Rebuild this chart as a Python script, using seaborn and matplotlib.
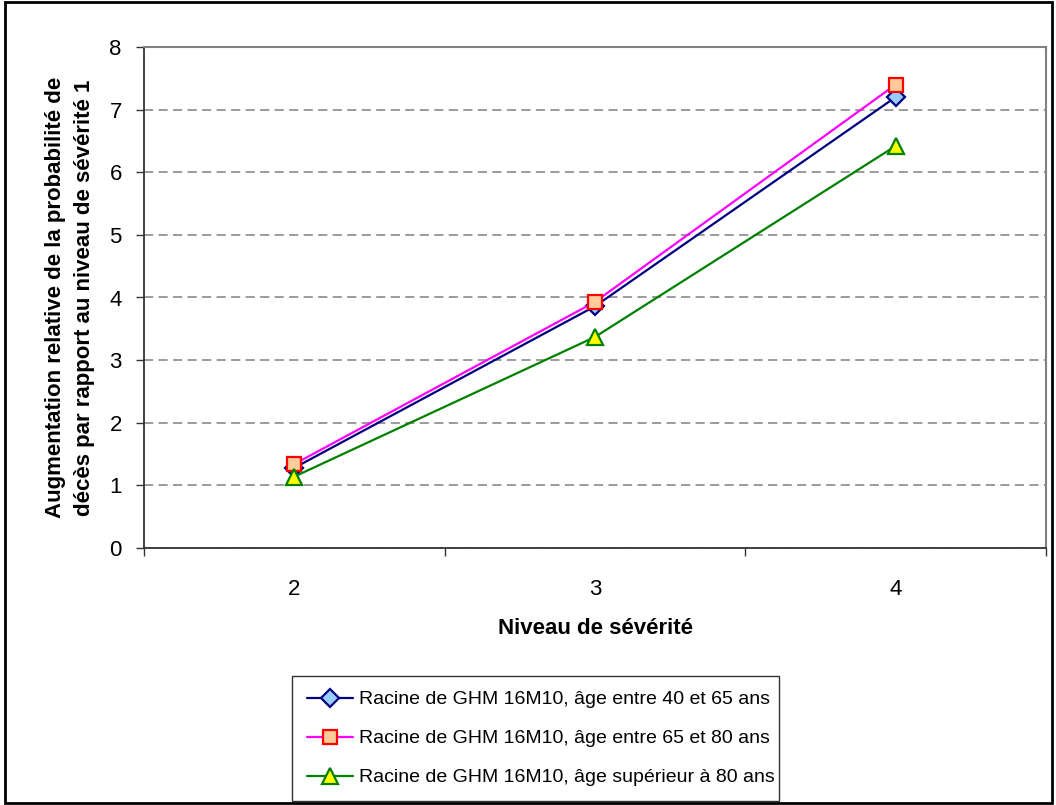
import matplotlib
matplotlib.use("Agg")
import matplotlib.pyplot as plt
from matplotlib.patches import Rectangle
from matplotlib.ticker import FixedLocator
import seaborn as sns
import pandas as pd

# data
severity = [2, 3, 4]
age_40_65 = [1.28, 3.86, 7.20]
age_65_80 = [1.34, 3.93, 7.40]
age_80_plus = [1.14, 3.37, 6.42]
series_labels = [
    "Racine de GHM 16M10, âge entre 40 et 65 ans",
    "Racine de GHM 16M10, âge entre 65 et 80 ans",
    "Racine de GHM 16M10, âge supérieur à 80 ans",
]

sns.set_style("white")
plt.rcParams['font.family'] = ['Liberation Sans', 'DejaVu Sans']
plt.rcParams['text.color'] = 'black'
plt.rcParams['axes.labelcolor'] = 'black'
plt.rcParams['xtick.labelcolor'] = 'black'
plt.rcParams['ytick.labelcolor'] = 'black'

fig = plt.figure(figsize=(10.56, 8.05), dpi=100)
ax = fig.add_axes([144 / 1056, 1 - 548 / 805, (1046 - 144) / 1056, (548 - 47) / 805])

styles = [
    dict(color='#000080', marker='D', markersize=9.5, markerfacecolor='#99CCFF', markeredgecolor='#000080'),
    dict(color='#FF00FF', marker='s', markersize=10, markerfacecolor='#FFCC99', markeredgecolor='#FF0000'),
    dict(color='#008000', marker='^', markersize=11.5, markerfacecolor='#FFFF00', markeredgecolor='#008000'),
]

for vals, lab, st in zip([age_40_65, age_65_80, age_80_plus], series_labels, styles):
    df = pd.DataFrame({'Niveau': severity, 'Valeur': vals})
    sns.lineplot(data=df, x='Niveau', y='Valeur', ax=ax, label=lab,
                 linewidth=1.6, markeredgewidth=1.6, clip_on=False, **st)

# axes and grid
ax.set_xlim(1.5, 4.5)
ax.set_ylim(0, 8)
ax.set_yticks(range(0, 9))
ax.set_xticks(severity)
ax.xaxis.set_minor_locator(FixedLocator([1.5, 2.5, 3.5, 4.5]))
ax.yaxis.grid(True, color='#808080', linewidth=1.1, linestyle=(0, (6, 3.5)))
ax.xaxis.grid(False)
ax.set_axisbelow(True)

for side in ['left', 'bottom']:
    ax.spines[side].set_color('#333333')
    ax.spines[side].set_linewidth(1.3)
for side in ['top', 'right']:
    ax.spines[side].set_color('#808080')
    ax.spines[side].set_linewidth(1.5)

ax.tick_params(axis='y', which='major', direction='out', length=6, width=1, color='#333333',
               labelsize=16, pad=10, left=True)
ax.tick_params(axis='x', which='major', length=0, labelsize=16, pad=22)
ax.tick_params(axis='x', which='minor', direction='out', length=6, width=1, color='#333333', bottom=True)

ax.set_xlabel('Niveau de sévérité', fontsize=16, fontweight='bold', labelpad=13)
ax.set_ylabel('Augmentation relative de la probabilité de\ndécès par rapport au niveau de sévérité 1',
              fontsize=16, fontweight='bold', labelpad=10, linespacing=1.55)

ax.get_legend().remove()
handles, labels = ax.get_legend_handles_labels()
leg = fig.legend(handles, labels, loc='lower left',
                 bbox_to_anchor=(292 / 1056, 4 / 805, (779 - 292) / 1056, (801 - 677) / 805),
                 mode='expand', fontsize=14, frameon=True, fancybox=False, shadow=False,
                 handlelength=2.4, handletextpad=0.3, labelspacing=1.1, borderaxespad=0,
                 borderpad=0.75)
leg.get_frame().set_edgecolor('#000000')
leg.get_frame().set_linewidth(1.0)

# outer chart border
fig.patches.append(Rectangle((5 / 1056, 2 / 805), 1047 / 1056, 801 / 805, transform=fig.transFigure,
                             fill=False, edgecolor='black', linewidth=2))

fig.savefig('out.png', dpi=100)
